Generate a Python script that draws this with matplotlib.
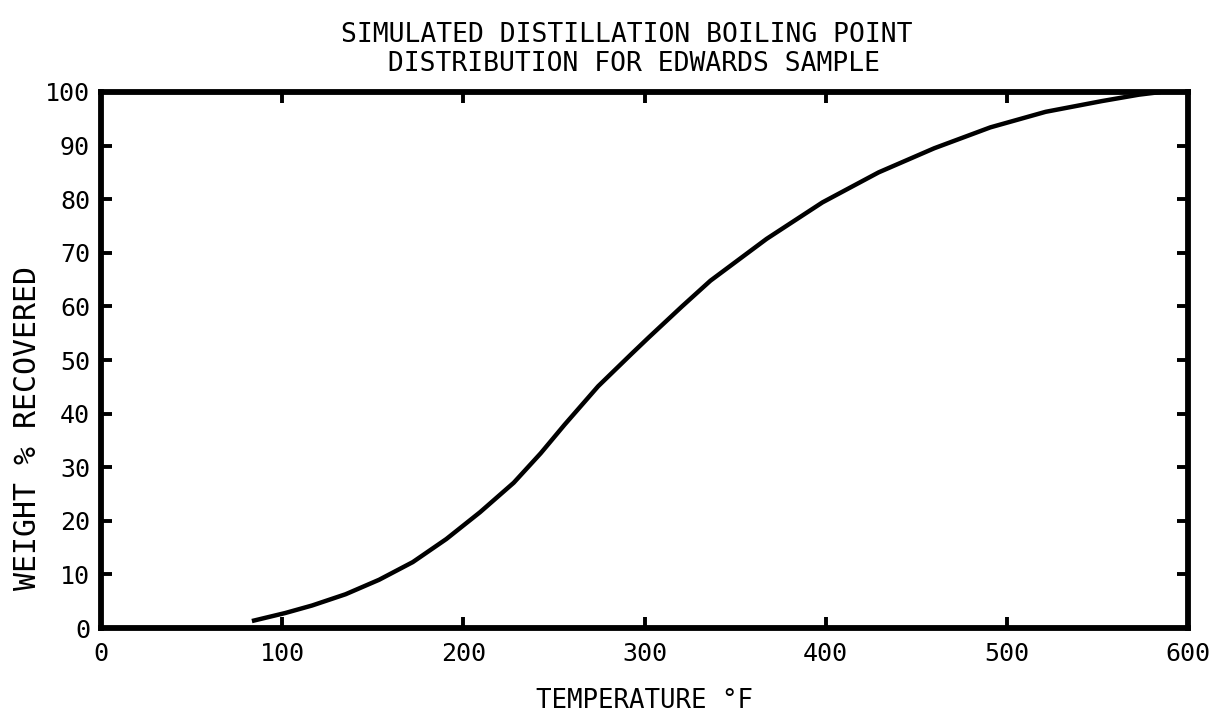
import matplotlib
matplotlib.use("Agg")
import matplotlib.pyplot as plt

# Simulated distillation curve: temperature (deg F) vs cumulative weight % recovered
temperature_f = [83.3, 101.7, 116.5, 135.0, 153.5, 172.1, 190.6, 209.2, 227.8,
                 242.7, 255.8, 274.4, 293.0, 302.3, 320.7, 336.4, 367.4, 398.2,
                 429.2, 459.9, 490.9, 521.4, 552.4, 572.9, 585.0]
weight_pct = [1.3, 2.8, 4.2, 6.3, 9.0, 12.3, 16.6, 21.6, 27.1,
              32.6, 37.9, 45.1, 51.2, 54.2, 60.0, 64.8, 72.6, 79.4,
              85.0, 89.5, 93.4, 96.3, 98.3, 99.5, 100.0]

x_ticks = [0, 100, 200, 300, 400, 500, 600]
y_ticks = [0, 10, 20, 30, 40, 50, 60, 70, 80, 90, 100]

title_text = "SIMULATED DISTILLATION BOILING POINT\n DISTRIBUTION FOR EDWARDS SAMPLE"
x_label = "TEMPERATURE \u00b0F"
y_label = "WEIGHT % RECOVERED"

plt.rcParams["font.family"] = ["DejaVu Sans Mono", "DejaVu Sans"]

fig = plt.figure(figsize=(12.14, 7.17), dpi=100)
ax = fig.add_axes([0.0832, 0.1241, 0.8954, 0.7476])

ax.plot(temperature_f, weight_pct, color="black", lw=3.2,
        solid_joinstyle="round", solid_capstyle="butt")

ax.set_xlim(0, 600)
ax.set_ylim(0, 100)

for side in ax.spines.values():
    side.set_linewidth(4.2)
    side.set_color("black")

ax.set_xticks(x_ticks)
ax.set_yticks(y_ticks)
ax.set_xticklabels([str(v) for v in x_ticks])
ax.set_yticklabels([str(v) for v in y_ticks])
ax.tick_params(axis="both", direction="in", length=8, width=2.8,
               labelsize=18, top=True, right=True,
               labeltop=False, labelright=False)
ax.tick_params(axis="x", pad=10)
ax.tick_params(axis="y", pad=8)

ax.set_xlabel(x_label, fontsize=18.5, labelpad=16)
ax.set_ylabel(y_label, fontsize=21.5)
ax.yaxis.set_label_coords(-0.054, 0.373)

fig.text(0.516, 0.969, title_text, ha="center", va="top", fontsize=19,
         linespacing=1.12)

fig.savefig("out.png", dpi=100, facecolor="white")
